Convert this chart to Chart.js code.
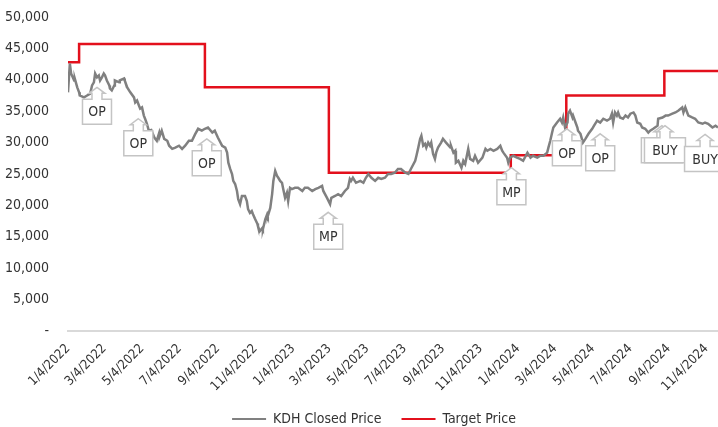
<!DOCTYPE html>
<html><head><meta charset="utf-8">
<script src="https://cdn.jsdelivr.net/npm/chart.js@4.4.1/dist/chart.umd.min.js"></script>
<style>html,body{margin:0;padding:0;background:#fff;} #c{display:block;}</style>
</head><body>
<canvas id="c" width="718" height="427"></canvas>
<script>
const tickLabels = ["1/4/2022","3/4/2022","5/4/2022","7/4/2022","9/4/2022","11/4/2022","1/4/2023","3/4/2023","5/4/2023","7/4/2023","9/4/2023","11/4/2023","1/4/2024","3/4/2024","5/4/2024","7/4/2024","9/4/2024","11/4/2024"];
// days since 1/4/2022
const priceDays = [0,3,5,10,11,15,18,19,26,31,36,39,42,44,47,50,52,55,58,60,63,67,68,71,75,76,83,84,91,92,96,101,107,109,112,115,117,120,123,125,128,131,135,140,144,148,149,152,156,161,164,169,174,180,185,190,196,201,206,211,217,222,227,234,238,243,250,255,258,260,263,266,268,271,274,276,279,282,287,290,292,295,298,300,303,307,308,311,315,316,320,323,324,328,331,333,336,339,341,344,347,349,352,355,357,360,363,368,373,380,384,389,396,401,406,412,414,420,425,427,433,438,443,449,454,457,459,462,467,474,479,483,487,492,498,503,508,514,519,524,530,535,540,547,552,556,563,565,568,571,573,576,579,581,584,587,589,592,595,597,600,605,608,613,620,621,625,628,629,633,638,641,644,649,652,657,660,665,672,677,680,685,690,696,701,704,706,712,714,717,722,728,733,738,745,750,754,761,766,771,777,779,782,785,787,793,798,801,803,806,810,811,814,818,819,823,826,827,831,835,839,844,850,853,858,863,868,874,879,882,884,887,890,892,895,900,904,908,912,917,920,923,928,931,936,941,944,949,956,957,964,969,973,980,985,990,996,998,1001,1004,1006,1012,1017,1022,1029,1033,1038,1045,1050,1054];
const priceValues = [38000,42600,41000,39900,40200,38800,38000,37500,37200,37500,37800,39100,39600,41000,40400,40700,39900,40400,41000,40700,39900,39100,38600,38300,39100,39900,39600,39900,40200,39900,38800,38000,37200,36400,36700,35900,35400,35600,34300,33800,33000,31900,32000,30800,30300,31600,31100,31900,30600,30300,29500,29000,29200,29500,29000,29500,30300,30300,31300,32200,31900,32200,32400,31600,31900,30800,29500,29200,28400,26800,25800,25000,23900,23400,22300,21000,20200,21500,21500,20700,19400,18800,19100,18600,17900,17100,16700,15900,16400,16200,17800,18600,18300,19600,21800,23900,25500,24700,24400,23900,23600,22600,21200,22000,20700,22800,22600,22800,22800,22300,22800,22800,22300,22600,22800,23100,22300,21200,20200,21200,21500,21800,21500,22300,22800,24200,23900,24400,23600,23900,23600,24400,25000,24400,23900,24400,24200,24400,25000,25000,25200,25800,25800,25200,25000,25800,27100,27900,29200,30600,31100,29500,29800,29200,30000,29500,30000,28200,27400,28400,29200,30000,30600,30000,29200,29500,28400,28700,26800,27100,26000,27100,26600,29000,27400,27100,27900,26800,27600,29000,28700,29000,28700,29000,29500,28700,28400,27600,26800,27600,27900,27600,27400,27100,28400,27600,27900,27600,27900,27900,28400,29200,30300,31600,32400,33200,33800,33200,34000,32400,33200,34600,35100,34000,34300,33200,32400,31900,31400,30000,30600,31400,32200,32700,33500,33200,33800,33500,33800,34600,33200,34800,34300,34800,34000,33800,34300,34000,34600,34800,34300,33200,33000,32400,32200,31600,31900,32200,32700,33800,34000,34300,34300,34600,34800,35100,35600,34800,35600,34800,34300,34000,33800,33200,33000,33200,33000,32400,32700,32400];
const targetDays = [0,18,222,423,718,808,967,1054];
const targetValues = [42800,45700,38800,25200,28000,37500,41400,41400];
const calloutLabels = ["OP","OP","OP","MP","MP","OP","OP","BUY","BUY","BUY"];
const calloutDays = [47,114,225,422,719,809,863,963,968,1033];
const calloutValues = [38800,33800,30600,18900,26000,32200,31400,32700,32700,31300];

const FONT = "'DejaVu Sans Condensed',sans-serif";
const TXT = '#333333';
function dayOffset(s){const [m,d,y]=s.split('/').map(Number);return Math.round((Date.UTC(y,m-1,d)-Date.UTC(2022,0,4))/86400000);}
const tickDays = tickLabels.map(dayOffset);

const calloutPlugin = {
  id:'callouts',
  afterLayout(chart){
    const lg = chart.legend;
    if (lg) {
      const h = lg.height; lg.top = 419 - 20 - 7; lg.bottom = lg.top + h;
      lg.left += 15; lg.right += 15;
    }
    const xs = chart.scales.x;
    xs.bottom = xs.top + 80;
  },
  afterDatasetsDraw(chart){
    const ctx=chart.ctx, xs=chart.scales.x, ys=chart.scales.y;
    ctx.save();
    ctx.font = "14px " + FONT;
    calloutLabels.forEach((lab,i)=>{
      const tx = xs.getPixelForValue(calloutDays[i]);
      const ty = ys.getPixelForValue(calloutValues[i]);
      const w = lab.length>2 ? 41 : 29;
      const headH=6, stemH=6, headHalf=8, stemHalf=5, boxH=25;
      const top = ty+headH+stemH;
      ctx.beginPath();
      ctx.moveTo(tx,ty);
      ctx.lineTo(tx+headHalf,ty+headH);
      ctx.lineTo(tx+stemHalf,ty+headH);
      ctx.lineTo(tx+stemHalf,top);
      ctx.lineTo(tx+w/2,top);
      ctx.lineTo(tx+w/2,top+boxH);
      ctx.lineTo(tx-w/2,top+boxH);
      ctx.lineTo(tx-w/2,top);
      ctx.lineTo(tx-stemHalf,top);
      ctx.lineTo(tx-stemHalf,ty+headH);
      ctx.lineTo(tx-headHalf,ty+headH);
      ctx.closePath();
      ctx.fillStyle='#ffffff';
      ctx.fill();
      ctx.strokeStyle='#c4c4c4';
      ctx.lineWidth=1.5;
      ctx.stroke();
      ctx.fillStyle=TXT;
      ctx.textAlign='center';
      ctx.textBaseline='middle';
      ctx.fillText(lab,tx,top+boxH/2+1);
    });
    ctx.restore();
  }
};

new Chart(document.getElementById('c'),{
  type:'line',
  data:{datasets:[
    {label:'KDH Closed Price',data:priceDays.map((d,i)=>({x:d,y:priceValues[i]})),borderColor:'#808080',backgroundColor:'#808080',borderWidth:2.5,pointRadius:0,tension:0},
    {label:'Target Price',data:targetDays.map((d,i)=>({x:d,y:targetValues[i]})),borderColor:'#e3101c',backgroundColor:'#e3101c',borderWidth:2.5,pointRadius:0,stepped:'before'}
  ]},
  options:{
    responsive:false,animation:false,
    layout:{padding:{top:17,right:0,left:0,bottom:0}},
    plugins:{
      tooltip:{enabled:false},
      legend:{position:'bottom',labels:{font:{family:FONT,size:14},color:TXT,boxWidth:34,boxHeight:2,padding:20,
        generateLabels(chart){return Chart.defaults.plugins.legend.labels.generateLabels(chart).map(l=>Object.assign(l,{lineWidth:0,fillStyle:l.strokeStyle}));}}}
    },
    scales:{
      x:{type:'linear',min:0,max:1054,
        grid:{display:false,drawTicks:false},
        border:{display:true,color:'#d9d9d9',width:2},
        afterBuildTicks(s){s.ticks=tickDays.map(v=>({value:v}));},
        afterFit(s){s.height=52;s.paddingLeft=0;s.paddingRight=0;s.paddingTop=0;s.paddingBottom=0;},
        ticks:{autoSkip:false,maxRotation:45,minRotation:45,padding:10,font:{family:FONT,size:13},color:TXT,
          callback:(v,i)=>tickLabels[i]}
      },
      y:{min:0,max:50000,
        grid:{display:false,drawTicks:false},
        border:{display:false},
        afterFit(s){s.width=68;s.paddingTop=0;s.paddingBottom=0;s.paddingLeft=0;s.paddingRight=0;},
        ticks:{stepSize:5000,padding:19,font:{family:FONT,size:14},color:TXT,
          callback:v=> v===0?'-':v.toLocaleString('en-US')}
      }
    }
  },
  plugins:[calloutPlugin]
});
</script>
</body></html>
